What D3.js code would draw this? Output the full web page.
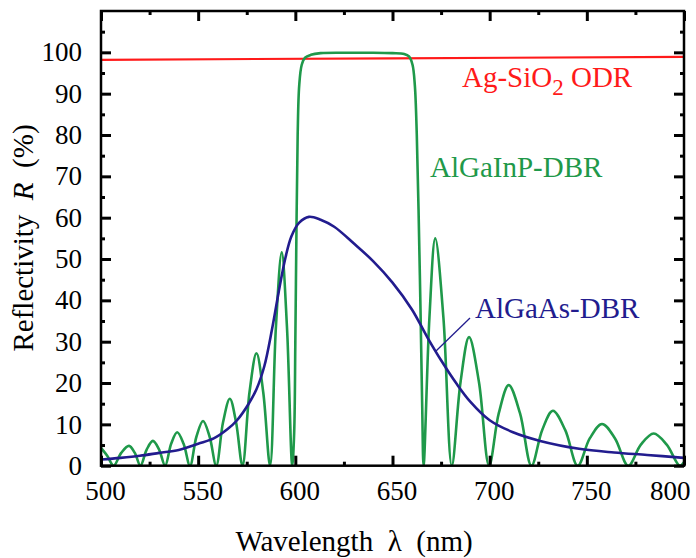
<!DOCTYPE html>
<html><head><meta charset="utf-8">
<script src="https://cdn.jsdelivr.net/npm/d3@7/dist/d3.min.js"></script>
<style>body{margin:0;background:#fff}svg{display:block}svg text{font-family:"Liberation Serif","Tinos","Times New Roman","Nimbus Roman","DejaVu Serif",serif !important}</style>
</head><body><svg id="c" width="696" height="558"></svg>
<script>
// ---- data ----
const xTickValues = [500, 550, 600, 650, 700, 750, 800];
const yTickValues = [0, 10, 20, 30, 40, 50, 60, 70, 80, 90, 100];
const xMinorValues = [525, 575, 625, 675, 725, 775];
const yMinorValues = [5, 15, 25, 35, 45, 55, 65, 75, 85, 95, 105];

const odrWl = [500, 650, 800];
const odrR  = [98.2, 98.55, 98.9];

const inpWl = [500, 503.2, 506.5, 510.4, 514.4, 517.4, 520.3, 523.5, 526.7, 529.9, 533,
  536.1, 539.2, 542.5, 545.8, 549.1, 552.5, 555.9, 559.3, 562.8, 566.3, 569.5, 572.8,
  576.4, 580, 583.5, 587, 590, 593, 595.7, 598.4, 599.4, 600, 600.6, 601.2, 602, 603.3,
  605, 608, 613, 625, 640, 650, 656, 658.5, 660.3, 661.5, 662.5, 663.4, 664.4, 665.3, 666,
  669, 672, 676.2, 680.5, 685, 689.4, 694.5, 699.7, 704.7, 709.8, 715.6, 721.5,
  727, 732.5, 738.9, 745.3, 751.5, 757.8, 764.5, 771.3, 777.8, 784.4, 791.1, 797.8, 800];
const inpR = [4.3, 2.4, 0, 3.1, 4.8, 3.1, 0, 3.9, 6.0, 3.9, 0,
  5.3, 8.1, 5.3, 0, 7.0, 10.8, 7.0, 0, 10.5, 16.2, 10.5, 0,
  17.7, 27.2, 17.7, 0, 33.5, 51.6, 33.5, 0, 8, 30, 58, 80, 92, 97,
  98.7, 99.4, 99.8, 99.9, 99.9, 99.8, 99.6, 99.0, 97, 92, 80, 62, 38, 14, 0,
  35.8, 55, 35.8, 0, 20.2, 31.1, 20.2, 0, 12.7, 19.5, 12.7, 0,
  8.6, 13.3, 8.6, 0, 6.6, 10.1, 6.6, 0, 5.1, 7.8, 5.1, 0, 0.8];

const asWl = [500, 510, 520, 530, 540, 550, 558, 565, 570, 576, 580, 584, 588, 592, 595, 598,
  602, 607, 613, 620, 630, 640, 650, 660, 668, 675, 683, 690, 700, 712, 726, 746, 764, 781, 800];
const asR = [1.5, 1.9, 2.4, 3.1, 3.8, 5.3, 6.6, 8.8, 11, 15, 18.5, 24, 33, 43.5, 50.5, 55.5,
  58.8, 60.2, 59.5, 57.8, 53.8, 49.5, 44.3, 37.8, 31, 25.5, 19.8, 15.5, 11, 8.1, 6.0, 4.1, 3.2, 2.6, 1.9];

// ---- layout ----
const FONT = '"Liberation Serif","Tinos","Times New Roman","Nimbus Roman","DejaVu Serif",serif';
const svg = d3.select("#c");
const L = 101, R = 684, T = 11, B = 465.7;
const x = d3.scaleLinear().domain([500, 800]).range([L, R]);
const y = d3.scaleLinear().domain([0, 110]).range([B, T]);
const RED = "#ff1a1a", GREEN = "#1f994a", NAVY = "#221c8e";

svg.append("defs").append("clipPath").attr("id", "clip")
  .append("rect").attr("x", L).attr("y", T).attr("width", R - L).attr("height", B - T);

const g = svg.append("g").attr("clip-path", "url(#clip)");
const mk = (wl, r) => wl.map((w, i) => [w, r[i]]);
const linLine = d3.line().x(d => x(d[0])).y(d => y(d[1])).curve(d3.curveLinear);
const smLine = d3.line().x(d => x(d[0])).y(d => y(d[1])).curve(d3.curveCatmullRom.alpha(0.5));

g.append("path").datum(mk(odrWl, odrR)).attr("fill", "none").attr("stroke", RED)
  .attr("stroke-width", 2.2).attr("d", linLine);
g.append("path").datum(mk(inpWl, inpR)).attr("fill", "none").attr("stroke", GREEN)
  .attr("stroke-width", 2.6).attr("stroke-linejoin", "round").attr("d", smLine);
g.append("path").datum(mk(asWl, asR)).attr("fill", "none").attr("stroke", NAVY)
  .attr("stroke-width", 2.6).attr("stroke-linejoin", "round").attr("d", smLine);

// ---- axes ----
function styleAxis(sel) {
  sel.attr("font-family", FONT);
  sel.select(".domain").remove();
  sel.selectAll(".tick line").attr("stroke", "#000").attr("stroke-width", 3);
  sel.selectAll(".tick text").attr("fill", "#000").attr("font-size", 27).attr("font-family", FONT);
}
const MAJ = 10, MIN = 4;
// bottom
const bx = svg.append("g").attr("transform", `translate(0,${B})`)
  .call(d3.axisBottom(x).tickValues(xTickValues).tickSize(-MAJ).tickPadding(15).tickFormat(d3.format("d")));
styleAxis(bx);
bx.selectAll(".tick text").attr("dx", 4).attr("dy", "0.71em");
bx.selectAll(".tick text").filter(d => d === 800).attr("text-anchor", "end").attr("dx", 6);
svg.append("g").attr("transform", `translate(0,${B})`)
  .call(d3.axisBottom(x).tickValues(xMinorValues).tickSize(-MIN).tickFormat("")).call(styleAxis);
// top
svg.append("g").attr("transform", `translate(0,${T})`)
  .call(d3.axisTop(x).tickValues(xTickValues).tickSize(-MAJ).tickFormat("")).call(styleAxis);
svg.append("g").attr("transform", `translate(0,${T})`)
  .call(d3.axisTop(x).tickValues(xMinorValues).tickSize(-MIN).tickFormat("")).call(styleAxis);
// left
const ly = svg.append("g").attr("transform", `translate(${L},0)`)
  .call(d3.axisLeft(y).tickValues(yTickValues).tickSize(-MAJ).tickPadding(19).tickFormat(d3.format("d")));
styleAxis(ly);
svg.append("g").attr("transform", `translate(${L},0)`)
  .call(d3.axisLeft(y).tickValues(yMinorValues).tickSize(-MIN).tickFormat("")).call(styleAxis);
// right
svg.append("g").attr("transform", `translate(${R},0)`)
  .call(d3.axisRight(y).tickValues(yTickValues).tickSize(-MAJ).tickFormat("")).call(styleAxis);
svg.append("g").attr("transform", `translate(${R},0)`)
  .call(d3.axisRight(y).tickValues(yMinorValues).tickSize(-MIN).tickFormat("")).call(styleAxis);

// frame
svg.append("rect").attr("x", L).attr("y", T).attr("width", R - L).attr("height", B - T)
  .attr("fill", "none").attr("stroke", "#000").attr("stroke-width", 2.5);

// ---- titles ----
const xt = svg.append("text").attr("x", 354).attr("y", 551).attr("text-anchor", "middle")
  .attr("font-family", FONT).attr("font-size", 29).attr("fill", "#000").style("white-space", "pre");
xt.text("Wavelength  λ  (nm)");

const yt = svg.append("text").attr("transform", "translate(33,238) rotate(-90)")
  .attr("font-family", FONT).attr("text-anchor", "middle").attr("font-size", 29).attr("fill", "#000").style("white-space", "pre");
yt.append("tspan").text("Reflectivity  ");
yt.append("tspan").attr("font-style", "italic").text("R");
yt.append("tspan").text("  (%)");

// ---- annotations ----
const a1 = svg.append("text").attr("x", 462).attr("y", 87).attr("font-family", FONT).attr("font-size", 29).attr("fill", RED);
a1.append("tspan").text("Ag-SiO");
a1.append("tspan").attr("font-size", 23).attr("dy", 8).text("2");
a1.append("tspan").attr("dy", -8).text(" ODR");

svg.append("text").attr("x", 430).attr("y", 177).attr("font-family", FONT).attr("font-size", 29).attr("fill", GREEN).text("AlGaInP-DBR");
svg.append("text").attr("x", 475).attr("y", 318).attr("font-family", FONT).attr("font-size", 29).attr("fill", NAVY).text("AlGaAs-DBR");
svg.append("line").attr("x1", 436).attr("y1", 351).attr("x2", 470).attr("y2", 318)
  .attr("stroke", NAVY).attr("stroke-width", 1.3);
</script></body></html>
